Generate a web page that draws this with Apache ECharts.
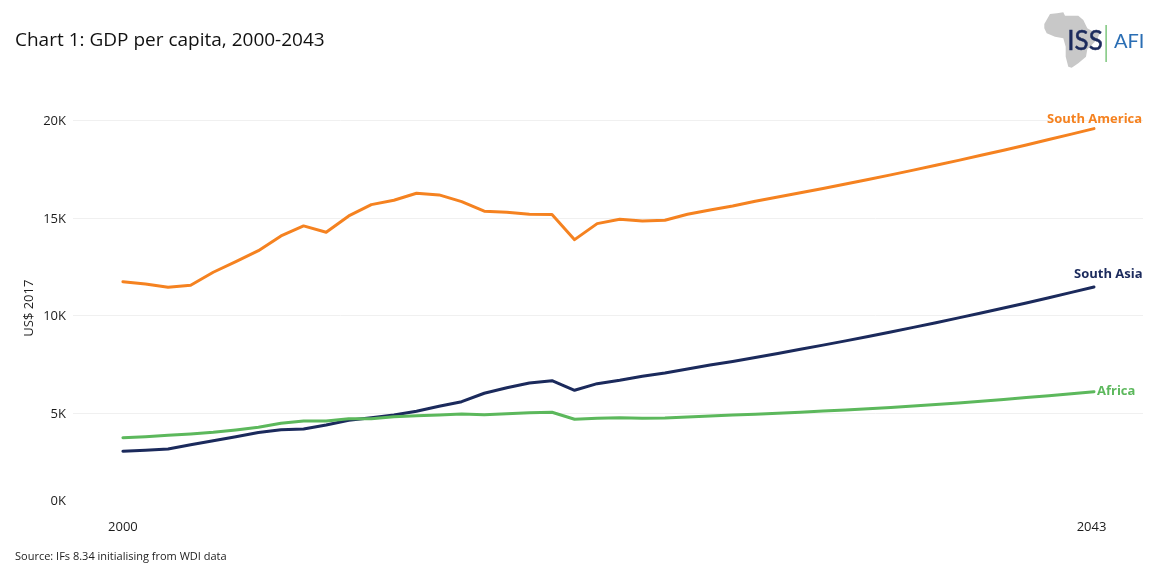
<!DOCTYPE html>
<html>
<head>
<meta charset="utf-8">
<style>html,body{margin:0;padding:0;background:#fff}#c{width:1155px;height:584px}</style>
<script src="https://cdn.jsdelivr.net/npm/echarts@6/dist/echarts.min.js"></script>
</head>
<body>
<div id="c"></div>
<script>
const years = Array.from({length: 44}, (_, i) => 2000 + i);
const southAmerica = [11741,11623,11454,11557,12222,12765,13328,14081,14593,14270,15105,15684,15909,16267,16180,15837,15346,15294,15192,15172,13891,14711,14936,14849,14885,15192,15412,15617,15858,16070,16287,16509,16736,16968,17206,17449,17697,17950,18208,18471,18739,19013,19292,19576];
const southAsia = [3057,3108,3175,3395,3600,3804,4019,4163,4199,4403,4644,4777,4916,5105,5361,5597,6027,6313,6554,6672,6180,6518,6692,6897,7066,7271,7476,7655,7860,8065,8275,8490,8710,8935,9165,9400,9640,9885,10135,10390,10652,10919,11191,11470];
const africa = [3753,3804,3876,3943,4030,4147,4286,4491,4608,4608,4726,4726,4828,4880,4916,4967,4931,4982,5033,5054,4695,4747,4777,4747,4762,4813,4864,4916,4956,5006,5059,5115,5174,5237,5304,5375,5451,5532,5618,5709,5804,5903,6005,6110];
const xTicks = [2000, 2043];
const TXT = '#1c1c1c';
const FONT = '"Open Sans"';

function line(name, data, color, label) {
  return {
    name, type: 'line', data: years.map((y, i) => [y, data[i]]),
    symbol: 'none', smooth: false, clip: false,
    lineStyle: {color, width: 3, cap: 'round', join: 'round'},
    endLabel: Object.assign({show: true, formatter: name, color, fontFamily: FONT, fontSize: 13, fontWeight: 'bold', distance: 3}, label)
  };
}

const chart = echarts.init(document.getElementById('c'), null, {renderer: 'canvas'});
chart.setOption({
  animation: false,
  backgroundColor: '#fff',
  title: {text: 'Chart 1: GDP per capita, 2000-2043', left: 10, top: 26,
    textStyle: {fontFamily: FONT, fontSize: 19, fontWeight: 'normal', color: '#111'}},
  grid: {left: 73, right: 12, top: 120.3, bottom: 73},
  xAxis: {
    type: 'value', min: 1997.79, max: 2045.17,
    splitLine: {show: false}, axisLine: {show: false}, axisTick: {show: false},
    axisLabel: {customValues: xTicks, margin: 10, color: TXT, fontFamily: FONT, fontSize: 13,
      formatter: v => v === 2043 ? '{e|2043}' : String(v),
      rich: {e: {padding: [0, 5, 0, 0], color: TXT, fontFamily: FONT, fontSize: 13}}}
  },
  yAxis: {
    type: 'value', min: 0, max: 20000, interval: 5000,
    name: 'US$ 2017', nameLocation: 'middle', nameGap: 37, nameMoveOverlap: false,
    nameTextStyle: {color: TXT, fontFamily: FONT, fontSize: 13, padding: [0, 0, 0, 15]},
    axisLine: {show: false}, axisTick: {show: false},
    splitLine: {show: true, showMinLine: false, lineStyle: {color: '#f0f0f0', width: 1}},
    axisLabel: {margin: 7, color: TXT, fontFamily: FONT, fontSize: 13, verticalAlignMinLabel: 'bottom', padding: [2, 0, 0, 0],
      formatter: v => v === 0 ? '{z|0K}' : (v / 1000) + 'K',
      rich: {z: {padding: [0, 0, 3, 0], color: TXT, fontFamily: FONT, fontSize: 13}}}
  },
  series: [
    line('South America', southAmerica, '#F58220', {offset: [-50, -9]}),
    line('South Asia', southAsia, '#1B2A5C', {offset: [-23, -13]}),
    line('Africa', africa, '#5CB85C', {})
  ],
  graphic: [
    {type: 'polygon', silent: true, z: 1,
      shape: {points: [[1044.3,24],[1050,14],[1057,13.3],[1063.3,12.3],[1065,15.7],[1078.3,15.7],[1083.3,20],[1087.3,28.3],[1095,32.7],[1100.7,31.7],[1096.7,40],[1087.3,49.3],[1086,56.7],[1078.3,63.3],[1071.7,67.7],[1068.3,66.7],[1065.7,56.7],[1065.7,46.7],[1063.3,38.3],[1055,36.7],[1046.7,33.3],[1044.3,28.3]]},
      style: {fill: '#C8C8C8'}},
    {type: 'text', silent: true, z: 2, left: 1067, top: 28,
      style: {text: 'ISS', fontFamily: 'Lato', fontSize: 26, fill: '#1B2A5C', stroke: '#1B2A5C', lineWidth: 0.5}},
    {type: 'rect', silent: true, z: 2, shape: {x: 1105.5, y: 25, width: 1.2, height: 37}, style: {fill: '#5CB85C'}},
    {type: 'text', silent: true, z: 2, left: 1114, top: 32,
      style: {text: 'AFI', fontFamily: 'Lato', fontSize: 20, fill: '#2A6EB4'}},
    {type: 'text', silent: true, left: 15, top: 551,
      style: {text: 'Source: IFs 8.34 initialising from WDI data', fontFamily: FONT, fontSize: 11, fill: TXT}}
  ]
});
</script>
</body>
</html>
